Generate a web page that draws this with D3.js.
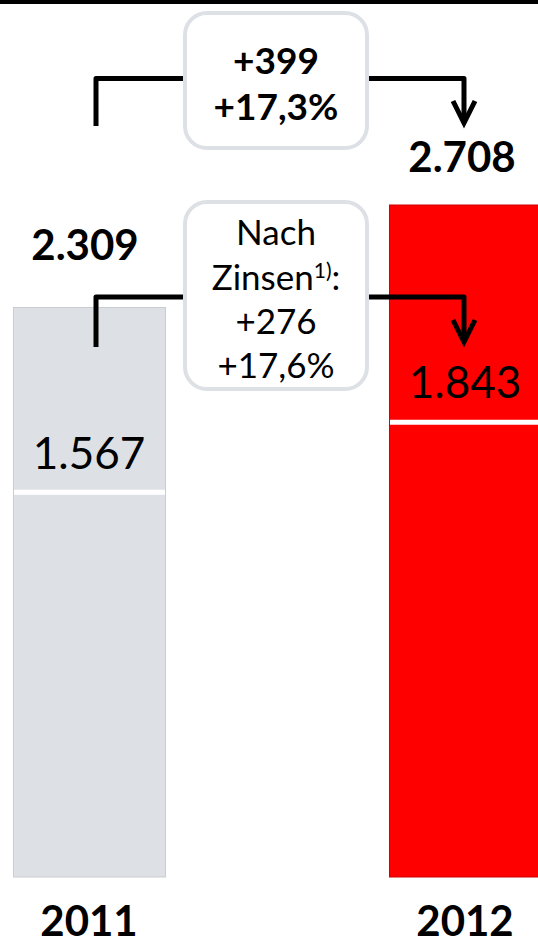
<!DOCTYPE html>
<html>
<head>
<meta charset="utf-8">
<script src="https://cdn.jsdelivr.net/npm/d3@7"></script>
<style>
  html, body { margin: 0; padding: 0; background: #fff; }
  svg { display: block; font-family: Lato, "Open Sans", sans-serif; }
</style>
</head>
<body>
<script>
// ---- data ----
const years = ["2011", "2012"];
const totals = [2309, 2708];          // Gesamt
const afterInterest = [1567, 1843];   // Nach Zinsen
const totalLabels = ["2.309", "2.708"];
const afterLabels = ["1.567", "1.843"];
const changeTotal = ["+399", "+17,3%"];
const changeAfter = ["+276", "+17,6%"];

const W = 538, H = 945;
const svg = d3.select("body").append("svg").attr("width", W).attr("height", H);

const x = d3.scaleBand().domain(years).range([13, 541]).paddingInner(0.5957).paddingOuter(0);
const bw = x.bandwidth();
const y = d3.scaleLinear().domain([0, 2708]).range([877, 205]);

const fills = ["#dde1e6", "#ff0000"];
const edges = ["#c9cdd2", "#d00000"];

// top rule
svg.append("rect").attr("x", 0).attr("y", 0).attr("width", W).attr("height", 4).attr("fill", "#000");

// bars
const data = years.map((yr, i) => ({ yr, total: totals[i], after: afterInterest[i], i }));
const xs = d => x(d.yr);

svg.selectAll("rect.bar").data(data).join("rect")
  .attr("class", "bar")
  .attr("x", d => xs(d) + 0.5)
  .attr("y", d => y(d.total) + (d.i === 0 ? 3.5 : 0))
  .attr("width", d => Math.min(bw, W - xs(d) + 2))
  .attr("height", d => y(0) - y(d.total) - (d.i === 0 ? 3.5 : 0))
  .attr("fill", (d) => fills[d.i])
  .attr("stroke", d => edges[d.i])
  .attr("stroke-width", 1);

// white separators at "after interest" level
svg.selectAll("line.sep").data(data).join("line")
  .attr("class", "sep")
  .attr("x1", d => xs(d) + 1)
  .attr("x2", d => Math.min(xs(d) + bw, W))
  .attr("y1", d => y(d.after) + (d.i === 0 ? 4 : 2.5))
  .attr("y2", d => y(d.after) + (d.i === 0 ? 4 : 2.5))
  .attr("stroke", "#fff").attr("stroke-width", 5);

const cx = d => xs(d) + bw / 2;

// total labels (bold)
svg.selectAll("text.total").data(data).join("text")
  .attr("class", "total")
  .attr("x", d => cx(d) - (d.i === 0 ? 4 : 3))
  .attr("y", d => y(d.total) - (d.i === 0 ? 44 : 33))
  .attr("text-anchor", "middle")
  .attr("font-size", 42).attr("font-weight", 700)
  .attr("fill", "#000")
  .text((d) => totalLabels[d.i]);

// after-interest labels
svg.selectAll("text.after").data(data).join("text")
  .attr("class", "after")
  .attr("x", d => cx(d))
  .attr("y", d => y(d.after) - (d.i === 0 ? 19 : 22))
  .attr("text-anchor", "middle")
  .attr("font-size", 44).attr("font-weight", 400)
  .attr("fill", "#000")
  .text(d => afterLabels[d.i]);

// year labels
svg.selectAll("text.year").data(data).join("text")
  .attr("class", "year")
  .attr("x", d => cx(d))
  .attr("y", 936)
  .attr("text-anchor", "middle")
  .attr("font-size", 42).attr("font-weight", 700)
  .attr("fill", "#000")
  .text(d => d.yr);

// ---- connectors with arrows ----
function connector(yLine, leftBottom, tipY, boxL, boxR) {
  const lx = cx(data[0]) + 7, rx = cx(data[1]) - 1;
  const g = svg.append("g").attr("fill", "none").attr("stroke", "#000").attr("stroke-width", 5);
  g.append("path").attr("d", `M${lx},${leftBottom} V${yLine} H${boxL}`).attr("stroke-linejoin", "round");
  g.append("path").attr("d", `M${boxR},${yLine} H${rx} V${tipY - 2}`).attr("stroke-linejoin", "round");
  g.append("path").attr("d", `M${rx - 11},${tipY - 22} L${rx},${tipY} L${rx + 11},${tipY - 22}`)
    .attr("stroke-linejoin", "miter");
}

function box(top, bottom) {
  svg.append("rect").attr("x", 185).attr("y", top).attr("width", 182).attr("height", bottom - top)
    .attr("rx", 22).attr("ry", 22)
    .attr("fill", "#fff").attr("stroke", "#dde1e6").attr("stroke-width", 4);
}

connector(78.5, 126, 123, 184, 368);
box(13, 148);
svg.selectAll("text.ch1").data(changeTotal).join("text")
  .attr("class", "ch1")
  .attr("x", 276).attr("y", (d, i) => 74 + i * 46)
  .attr("text-anchor", "middle")
  .attr("font-size", 37).attr("font-weight", 700)
  .text(d => d);

connector(297, 347, 342, 184, 368);
box(202, 389);
const t2 = svg.append("g").attr("font-size", 35).attr("font-weight", 400).attr("text-anchor", "middle");
t2.append("text").attr("x", 276).attr("y", 245).text("Nach");
const z = t2.append("text").attr("x", 276).attr("y", 290);
z.append("tspan").text("Zinsen");
z.append("tspan").attr("font-size", 21).attr("dy", -12).text("1)");
z.append("tspan").attr("dy", 12).text(":");
t2.selectAll("text.ch2").data(changeAfter).join("text")
  .attr("class", "ch2")
  .attr("x", 276).attr("y", (d, i) => 334 + i * 44)
  .text(d => d);
</script>
</body>
</html>
